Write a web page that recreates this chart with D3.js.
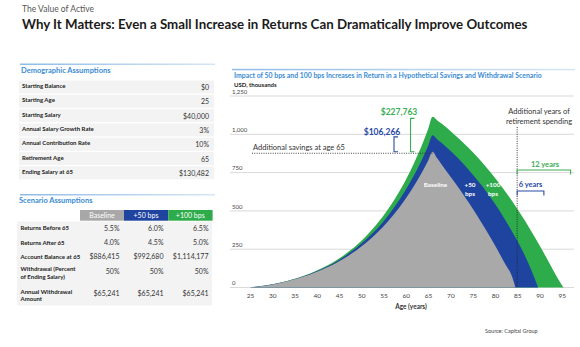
<!DOCTYPE html>
<html>
<head>
<meta charset="utf-8">
<title>Why It Matters</title>
<script src="https://cdn.jsdelivr.net/npm/d3@7"></script>
<style>
  body { margin: 0; background: #fff; }
  text { font-family: Lato, "Open Sans", sans-serif; }
</style>
</head>
<body>
<svg id="chart" width="580" height="347"></svg>
<script>
// demographic assumptions table
const demoLabels = ['Starting Balance', 'Starting Age', 'Starting Salary', 'Annual Salary Growth Rate',
  'Annual Contribution Rate', 'Retirement Age', 'Ending Salary at 65'];
const demoValues = ['$0', '25', '$40,000', '3%', '10%', '65', '$130,482'];

// scenario assumptions table
const scenarioNames = ['Baseline', '+50 bps', '+100 bps'];
const scenarioColors = ['#a8a8a8', '#1f44a0', '#2eab4b'];
const scenarioRows = [['Returns Before 65'], ['Returns After 65'], ['Account Balance at 65'],
  ['Withdrawal (Percent', 'of Ending Salary)'], ['Annual Withdrawal', 'Amount']];
const baselineCol = ['5.5%', '4.0%', '$886,415', '50%', '$65,241'];
const bps50Col = ['6.0%', '4.5%', '$992,680', '50%', '$65,241'];
const bps100Col = ['6.5%', '5.0%', '$1,114,177', '50%', '$65,241'];

// account balance, USD thousands
const baselineAges = [25, 31, 36, 41, 46, 51, 56, 61, 64, 65, 66, 67, 68, 70, 72, 74, 76, 78, 80, 82, 84, 84.6];
const baselineVals = [0, 25, 61.5, 114, 188, 290, 432, 625, 772, 828, 886, 845, 805, 725, 645, 560, 470, 375, 275, 170, 58, 0];
const bps50Ages = [25, 31, 36, 41, 46, 51, 56, 61, 64, 65, 66, 67, 68, 70, 72, 74, 76, 78, 80, 82, 84, 86, 88, 89.7];
const bps50Vals = [0, 25.3, 63.2, 118.5, 198, 311, 469, 689, 859, 924, 993, 968, 945, 892, 835, 772, 703, 628, 546, 456, 358, 252, 125, 0];
const bps100Ages = [25, 31, 36, 41, 46, 51, 56, 61, 64, 65, 66, 67, 68, 70, 72, 74, 76, 78, 80, 82, 84, 86, 88, 90, 92, 94, 95.4];
const bps100Vals = [0, 25.7, 64.9, 123.4, 209, 333, 510, 761, 958, 1034, 1114, 1092, 1070, 1022, 970, 914, 853, 787, 716, 640, 558, 470, 376, 276, 172, 66, 0];

const yTicks = [0, 250, 500, 750, 1000, 1250];
const xTicks = [25, 30, 35, 40, 45, 50, 55, 60, 65, 70, 75, 80, 85, 90, 95];
const peakAge = 66, retireEndAge = 85, bps50EndAge = 91, bps100EndAge = 97;

const svg = d3.select('#chart');

const defs = svg.append('defs');
const grad = defs.append('linearGradient').attr('id', 'rule');
grad.append('stop').attr('offset', '0%').attr('stop-color', '#8fbbe6');
grad.append('stop').attr('offset', '100%').attr('stop-color', '#d6e6f5');

// headings
svg.append('text').attr('x', 22).attr('y', 12).attr('font-size', 8.5).attr('fill', '#555')
  .text('The Value of Active');
svg.append('text').attr('x', 22).attr('y', 29).attr('font-size', 13.3).attr('font-weight', 700).attr('fill', '#1b1b1b')
  .text('Why It Matters: Even a Small Increase in Returns Can Dramatically Improve Outcomes');

// ---------- left panel: demographic table ----------
svg.append('rect').attr('x', 20).attr('y', 63.5).attr('width', 195).attr('height', 1.5).attr('fill', 'url(#rule)');
svg.append('text').attr('x', 21).attr('y', 72.5).attr('font-size', 7.5).attr('font-weight', 700).attr('fill', '#3a8bd2')
  .text('Demographic Assumptions');

const demo = svg.append('g');
demoLabels.forEach((lab, i) => {
  const cy = 87 + i * 14.3;
  demo.append('rect').attr('x', 19).attr('y', cy - 6.5).attr('width', 195).attr('height', 13).attr('fill', '#f3f3f3');
  demo.append('text').attr('x', 22).attr('y', cy + 1).attr('font-size', 6).attr('font-weight', 700).attr('fill', '#222')
    .text(lab);
  demo.append('text').attr('x', 209).attr('y', cy + 3).attr('font-size', 7).attr('text-anchor', 'end').attr('fill', '#333')
    .text(demoValues[i]);
});

// ---------- left panel: scenario table ----------
svg.append('rect').attr('x', 20).attr('y', 194).attr('width', 195).attr('height', 1.5).attr('fill', 'url(#rule)');
svg.append('text').attr('x', 19).attr('y', 202.5).attr('font-size', 7.5).attr('font-weight', 700).attr('fill', '#3a8bd2')
  .text('Scenario Assumptions');

const colRight = [119.5, 163.5, 208.5];
const colLeft = [80, 124, 168.3];
const cols = [baselineCol, bps50Col, bps100Col];
const scen = svg.append('g');
scen.append('rect').attr('x', 17).attr('y', 221.5).attr('width', 195).attr('height', 84).attr('fill', '#f3f3f3');
scenarioNames.forEach((name, j) => {
  scen.append('rect').attr('x', colLeft[j]).attr('y', 210).attr('width', 44.3).attr('height', 10.7)
    .attr('fill', scenarioColors[j]);
  scen.append('text').attr('x', colLeft[j] + 22).attr('y', 217.8).attr('font-size', 7).attr('text-anchor', 'middle')
    .attr('fill', '#fff').text(name);
});
const rowLabelY = [228.3, 242.7, 256.7, 269, 291.7];
const rowValueY = [228.3, 242.7, 256.7, 271.7, 293.7];
scenarioRows.forEach((lines, i) => {
  lines.forEach((ln, k) => {
    scen.append('text').attr('x', 20.5).attr('y', rowLabelY[i] + 2 + k * 7.7).attr('font-size', 6)
      .attr('font-weight', 700).attr('fill', '#222').text(ln);
  });
  cols.forEach((col, j) => {
    scen.append('text').attr('x', colRight[j]).attr('y', rowValueY[i] + 2.5).attr('font-size', 7)
      .attr('text-anchor', 'end').attr('fill', '#333').text(col[i]);
  });
});

// ---------- right panel: chart ----------
svg.append('rect').attr('x', 232).attr('y', 68.8).attr('width', 343).attr('height', 1.5).attr('fill', 'url(#rule)');
svg.append('text').attr('x', 234).attr('y', 78).attr('font-size', 6.9).attr('font-weight', 700).attr('fill', '#3a8bd2')
  .text('Impact of 50 bps and 100 bps Increases in Return in a Hypothetical Savings and Withdrawal Scenario');
svg.append('text').attr('x', 234).attr('y', 86.5).attr('font-size', 6).attr('font-weight', 700).attr('fill', '#222')
  .text('USD, thousands');

const x = d3.scaleLinear().domain([25, 95]).range([250, 561.7]);
const y = d3.scaleLinear().domain([0, 1250]).range([287.5, 96]);

const grid = svg.append('g');
grid.selectAll('line').data(yTicks).enter().append('line')
  .attr('x1', 230).attr('x2', 574)
  .attr('y1', d => y(d)).attr('y2', d => y(d))
  .attr('stroke', '#d9d9d9').attr('stroke-width', 1);
grid.selectAll('text').data(yTicks).enter().append('text')
  .attr('x', 232).attr('y', d => y(d) - 2.2)
  .attr('font-size', 6).attr('fill', '#444')
  .text(d => d3.format(',')(d));

const xaxis = d3.axisBottom(x).tickValues(xTicks).tickSize(0).tickPadding(6);
const xg = svg.append('g').attr('transform', `translate(0,${y(0)})`).call(xaxis);
xg.select('.domain').remove();
xg.selectAll('text').attr('font-size', 6.5).attr('fill', '#444').attr('font-family', 'Lato, sans-serif');
svg.append('text').attr('x', 411).attr('y', 309).attr('font-size', 6.5).attr('font-weight', 700)
  .attr('text-anchor', 'middle').attr('fill', '#333').text('Age (years)');

const area = d3.area()
  .x(d => x(d[0]))
  .y0(y(0))
  .y1(d => y(d[1]))
  .curve(d3.curveMonotoneX);

const series = [
  [d3.zip(bps100Ages, bps100Vals), '#2eab4b'],
  [d3.zip(bps50Ages, bps50Vals), '#1f44a0'],
  [d3.zip(baselineAges, baselineVals), '#a9a9a9']
];
series.forEach(s => {
  svg.append('path').datum(s[0]).attr('d', area).attr('fill', s[1]);
});

// labels inside areas
const inLabels = [
  [['Baseline'], 435.5],
  [['+50', 'bps'], 470],
  [['+100', 'bps'], 493]
];
inLabels.forEach(l => {
  l[0].forEach((t, k) => {
    svg.append('text').attr('x', l[1]).attr('y', 186.5 + k * 9).attr('font-size', 6.3).attr('font-weight', 700)
      .attr('text-anchor', 'middle').attr('fill', '#fff').text(t);
  });
});

// additional savings at age 65
const peakBase = baselineVals[baselineAges.indexOf(peakAge)];
const peak50 = bps50Vals[bps50Ages.indexOf(peakAge)];
const peak100 = bps100Vals[bps100Ages.indexOf(peakAge)];

svg.append('text').attr('x', 253).attr('y', 149.8).attr('font-size', 7.5).attr('fill', '#333')
  .text('Additional savings at age 65');
svg.append('line').attr('x1', 252).attr('x2', x(peakAge)).attr('y1', y(peakBase) + 1.5).attr('y2', y(peakBase) + 1.5)
  .attr('stroke', '#333').attr('stroke-width', 0.9).attr('stroke-dasharray', '1,1.3');

function vBracket(bx, v1, v2, color) {
  const y1 = y(v1) + 1.5, y2 = y(v2);
  svg.append('path')
    .attr('d', `M${bx + 4},${y1}H${bx}V${y2}H${bx + 4}`)
    .attr('fill', 'none').attr('stroke', color).attr('stroke-width', 1.1);
}
vBracket(394, peak50, peakBase, '#2a4aa6');
vBracket(410.5, peak100, peakBase, '#3aae55');

svg.append('text').attr('x', 399).attr('y', 115).attr('font-size', 8.5).attr('font-weight', 700)
  .attr('text-anchor', 'middle').attr('fill', '#3aae55').text('$227,763');
svg.append('text').attr('x', 382).attr('y', 134.5).attr('font-size', 8.5).attr('font-weight', 700)
  .attr('text-anchor', 'middle').attr('fill', '#2a4aa6').text('$106,266');

// additional years of retirement spending
svg.append('text').attr('x', 539).attr('y', 114).attr('font-size', 7.5).attr('text-anchor', 'middle').attr('fill', '#333')
  .text('Additional years of');
svg.append('text').attr('x', 539).attr('y', 123.5).attr('font-size', 7.5).attr('text-anchor', 'middle').attr('fill', '#333')
  .text('retirement spending');
svg.append('line').attr('x1', x(retireEndAge)).attr('x2', x(retireEndAge)).attr('y1', 127).attr('y2', y(0))
  .attr('stroke', '#222').attr('stroke-width', 0.9).attr('stroke-dasharray', '1,1.3');

function hBracket(by, a1, a2, color) {
  svg.append('path')
    .attr('d', `M${x(a1)},${by + 4.5}V${by}H${x(a2)}V${by + 4.5}`)
    .attr('fill', 'none').attr('stroke', color).attr('stroke-width', 1.1);
}
hBracket(170, retireEndAge, bps100EndAge, '#3aae55');
hBracket(191, retireEndAge, bps50EndAge, '#2a4aa6');
svg.append('text').attr('x', 545).attr('y', 166.5).attr('font-size', 7.5).attr('font-weight', 700)
  .attr('text-anchor', 'middle').attr('fill', '#3aae55').text('12 years');
svg.append('text').attr('x', 530.5).attr('y', 186.5).attr('font-size', 7.5).attr('font-weight', 700)
  .attr('text-anchor', 'middle').attr('fill', '#2a4aa6').text('6 years');

svg.append('text').attr('x', 485).attr('y', 332.5).attr('font-size', 5.5).attr('fill', '#444')
  .text('Source: Capital Group');
</script>
</body>
</html>
